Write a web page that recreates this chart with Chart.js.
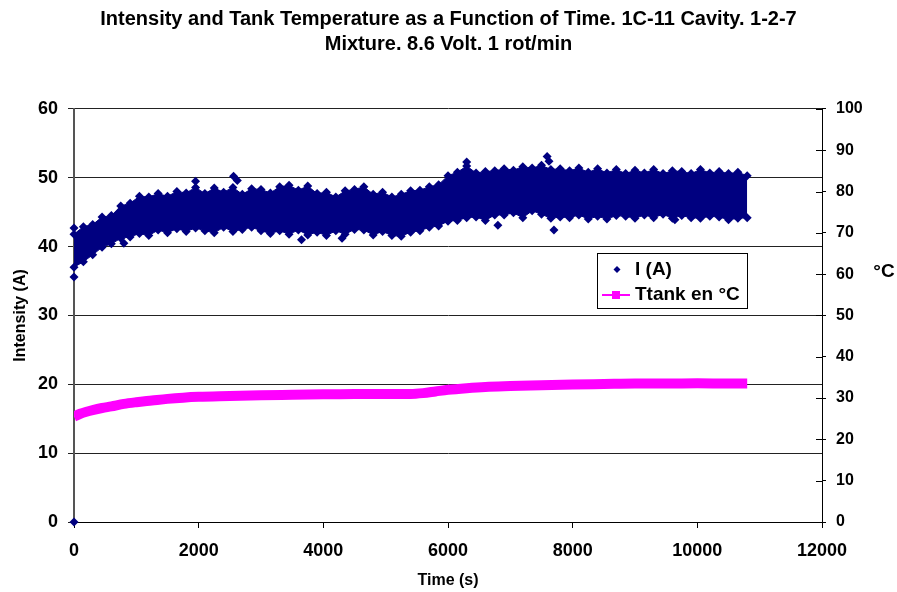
<!DOCTYPE html>
<html>
<head>
<meta charset="utf-8">
<script src="https://cdn.jsdelivr.net/npm/chart.js@4.4.1/dist/chart.umd.min.js"></script>
<style>
  html, body { margin: 0; padding: 0; background: #fff; }
  #chart { display: block; }
</style>
</head>
<body>
<canvas id="chart" width="897" height="592"></canvas>
<script>
// time base of the intensity band (s)
const timeS = [0, 150, 300, 450, 600, 750, 900, 1050, 1200, 1350, 1500, 1650, 1800, 1950, 2100, 2250, 2400, 2550, 2700, 2850,
  3000, 3150, 3300, 3450, 3600, 3750, 3900, 4050, 4200, 4350, 4500, 4650, 4800, 4950, 5100, 5250, 5400, 5550, 5700, 5850,
  6000, 6150, 6300, 6450, 6600, 6750, 6900, 7050, 7200, 7350, 7500, 7650, 7800, 7950, 8100, 8250, 8400, 8550, 8700, 8850,
  9000, 9150, 9300, 9450, 9600, 9750, 9900, 10050, 10200, 10350, 10500, 10650, 10800];

// upper / lower edge of the I (A) cloud
const intensityHigh = [41.8, 42.9, 43.2, 44.3, 44.5, 45.9, 46.3, 47.3, 47.2, 47.7, 47.3, 48.0, 47.8, 48.6, 47.7, 48.5, 47.9, 48.6, 47.6, 48.4,
  48.3, 47.8, 48.7, 48.9, 48.2, 48.8, 47.7, 47.9, 47.2, 48.1, 48.3, 48.7, 47.6, 47.9, 47.2, 47.6, 48.1, 48.2, 48.7, 49.0,
  50.3, 50.8, 51.7, 50.7, 50.9, 51.0, 51.3, 51.1, 51.6, 51.4, 51.8, 51.2, 51.3, 51.0, 51.4, 50.8, 51.3, 50.7, 51.2, 50.6,
  51.1, 50.7, 51.2, 50.6, 51.0, 50.9, 50.6, 51.2, 50.7, 50.9, 50.6, 50.8, 50.3];
const intensityLow = [37.0, 37.8, 38.8, 39.9, 40.4, 41.2, 41.4, 41.9, 41.6, 42.4, 42.0, 42.6, 42.2, 42.7, 42.3, 42.0, 42.8, 42.2, 42.5, 42.8,
  42.3, 41.9, 42.3, 41.8, 42.4, 41.7, 42.1, 41.6, 42.3, 41.8, 42.5, 42.4, 41.7, 42.2, 41.6, 41.5, 42.1, 42.3, 42.8, 43.0,
  43.7, 43.8, 44.2, 44.3, 43.8, 44.6, 44.6, 44.9, 44.2, 45.2, 44.7, 44.1, 44.3, 44.2, 44.6, 44.0, 44.4, 44.0, 44.5, 44.4,
  44.1, 44.6, 44.2, 44.7, 44.1, 44.5, 44.2, 44.1, 44.4, 44.3, 43.9, 44.1, 44.2];

// isolated readings outside the cloud
const strayTime = [0, 0, 0, 800, 1950, 2560, 2620, 3650, 4300, 6300, 6800, 7590, 7620, 7700, 9640];
const strayI = [0, 35.6, 42.7, 40.5, 49.5, 50.2, 49.6, 41.0, 41.2, 52.3, 43.1, 53.1, 52.4, 42.4, 43.9];

// tank temperature (°C)
const tempTime = [0, 100, 200, 300, 450, 600, 800, 1000, 1250, 1500, 1750, 2000, 2500, 3000, 3500, 4000, 4500, 5000, 5400,
  5600, 5800, 6000, 6300, 6600, 7000, 7500, 8000, 8500, 9000, 9500, 10000, 10500, 10800];
const tempC = [25.5, 26.2, 26.7, 27.1, 27.6, 28.0, 28.6, 29.0, 29.4, 29.8, 30.1, 30.3, 30.5, 30.7, 30.8, 30.9, 31.0, 31.0, 31.0,
  31.2, 31.6, 32.0, 32.4, 32.7, 32.9, 33.1, 33.3, 33.4, 33.5, 33.5, 33.6, 33.5, 33.5];

const titleLines = ['Intensity and Tank Temperature as a Function of Time. 1C-11 Cavity. 1-2-7', 'Mixture. 8.6 Volt. 1 rot/min'];

const NAVY = '#000080';
const MAGENTA = '#FF00FF';
const FONT = "'Liberation Sans', Arial, sans-serif";

const pts = (xs, ys) => xs.map((x, i) => ({ x, y: ys[i] }));

const bandStyle = {
  type: 'line',
  yAxisID: 'y',
  borderColor: NAVY,
  borderWidth: 1,
  backgroundColor: NAVY,
  pointStyle: 'rectRot',
  pointRadius: 4.5,
  pointHoverRadius: 4.5,
  pointBackgroundColor: NAVY,
  pointBorderColor: NAVY,
  pointBorderWidth: 0,
  clip: false
};

// legend, °C label and crossing ticks on the right axis
const extras = {
  id: 'extras',
  afterDraw(chart) {
    const { ctx } = chart;
    const y2 = chart.scales.y2;
    ctx.save();
    ctx.strokeStyle = '#000';
    ctx.lineWidth = 1;
    y2.ticks.forEach((t, i) => {
      const py = Math.round(y2.getPixelForTick(i)) + 0.5;
      ctx.beginPath();
      ctx.moveTo(y2.left - 6, py);
      ctx.lineTo(y2.left, py);
      ctx.stroke();
    });

    ctx.fillStyle = '#000';
    ctx.font = `bold 19px ${FONT}`;
    ctx.textAlign = 'center';
    ctx.textBaseline = 'middle';
    ctx.fillText('°C', 884, 272);

    // legend box
    const bx = 597, by = 253, bw = 150, bh = 55;
    ctx.fillStyle = '#fff';
    ctx.fillRect(bx, by, bw, bh);
    ctx.strokeRect(bx + 0.5, by + 0.5, bw, bh);

    ctx.fillStyle = NAVY;
    ctx.beginPath();
    ctx.moveTo(617, 266); ctx.lineTo(620.5, 269.5); ctx.lineTo(617, 273); ctx.lineTo(613.5, 269.5);
    ctx.closePath();
    ctx.fill();

    ctx.strokeStyle = MAGENTA;
    ctx.lineWidth = 2;
    ctx.beginPath();
    ctx.moveTo(602, 295); ctx.lineTo(630, 295);
    ctx.stroke();
    ctx.fillStyle = MAGENTA;
    ctx.fillRect(612, 291, 8, 8);

    ctx.fillStyle = '#000';
    ctx.font = `bold 19px ${FONT}`;
    ctx.textAlign = 'left';
    ctx.fillText('I (A)', 635, 270);
    ctx.fillText('Ttank en °C', 635, 295);
    ctx.restore();
  }
};

new Chart(document.getElementById('chart'), {
  type: 'line',
  data: {
    datasets: [
      { ...bandStyle, label: 'I (A)', data: pts(timeS, intensityHigh), fill: '+1' },
      { ...bandStyle, label: 'I (A) low', data: pts(timeS, intensityLow), fill: false },
      { ...bandStyle, label: 'I (A) stray', data: pts(strayTime, strayI), showLine: false, fill: false },
      {
        type: 'line',
        label: 'Ttank en °C',
        yAxisID: 'y2',
        data: pts(tempTime, tempC),
        borderColor: MAGENTA,
        backgroundColor: MAGENTA,
        borderWidth: 10,
        pointRadius: 0,
        cubicInterpolationMode: 'monotone',
        fill: false
      }
    ]
  },
  options: {
    responsive: false,
    animation: false,
    events: [],
    layout: { padding: 0 },
    plugins: {
      legend: { display: false },
      tooltip: { enabled: false },
      title: {
        display: true,
        text: titleLines,
        color: '#000',
        font: { family: FONT, size: 20, weight: 'bold', lineHeight: 1.26 },
        padding: { top: 6.5, bottom: 52 }
      }
    },
    scales: {
      x: {
        type: 'linear',
        min: 0,
        max: 12000,
        ticks: { stepSize: 2000, color: '#000', padding: 12, maxRotation: 0, callback: (v) => String(v), font: { family: FONT, size: 18, weight: 'bold' } },
        grid: { drawOnChartArea: false, tickLength: 6, color: '#000' },
        border: { color: '#000', width: 1 },
        title: { display: true, text: 'Time (s)', color: '#000', padding: { top: 0, bottom: 2 }, font: { family: FONT, size: 16, weight: 'bold' } },
        afterFit: (s) => { s.height = 70; }
      },
      y: {
        position: 'left',
        min: 0,
        max: 60,
        ticks: { stepSize: 10, color: '#000', padding: 10, font: { family: FONT, size: 18, weight: 'bold' } },
        grid: { color: '#222', tickLength: 6 },
        border: { color: '#555', width: 2 },
        title: { display: true, text: 'Intensity (A)', color: '#000', padding: { top: 11, bottom: 0 }, font: { family: FONT, size: 16, weight: 'bold' } },
        afterFit: (s) => { s.width = 74; }
      },
      y2: {
        position: 'right',
        min: 0,
        max: 100,
        ticks: { stepSize: 10, color: '#000', padding: 10, font: { family: FONT, size: 16, weight: 'bold' } },
        grid: { drawOnChartArea: false, tickLength: 4, color: '#000' },
        border: { color: '#000', width: 1 },
        afterFit: (s) => { s.width = 75; }
      }
    }
  },
  plugins: [extras]
});
</script>
</body>
</html>
